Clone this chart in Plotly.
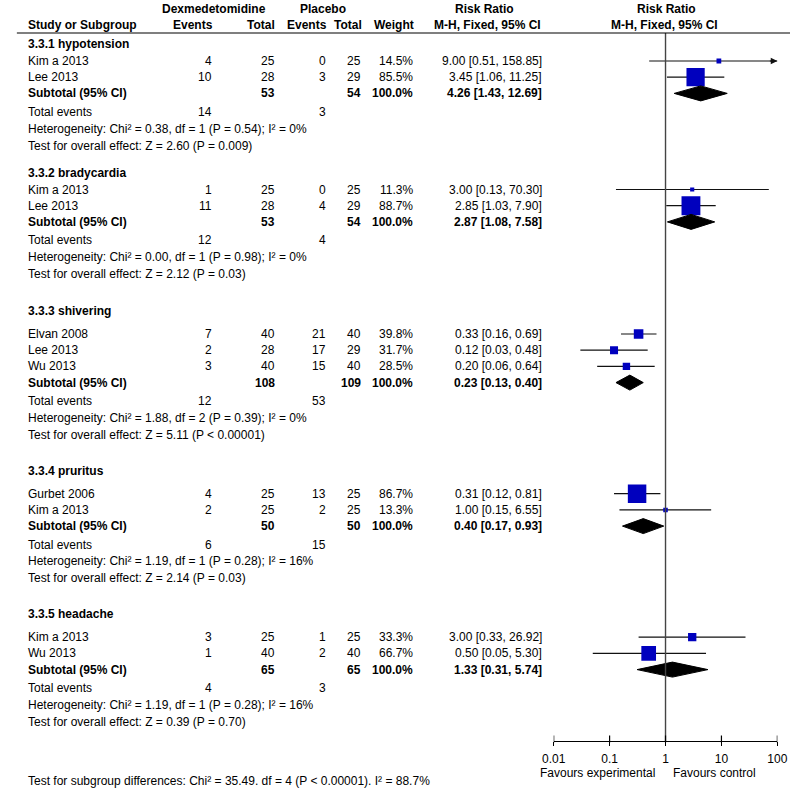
import math
import plotly.graph_objects as go

W, H = 800, 788

# ---------------- data ----------------
sections = ["3.3.1 hypotension", "3.3.2 bradycardia", "3.3.3 shivering",
            "3.3.4 pruritus", "3.3.5 headache"]
study_names = [["Kim a 2013", "Lee 2013"], ["Kim a 2013", "Lee 2013"],
               ["Elvan 2008", "Lee 2013", "Wu 2013"], ["Gurbet 2006", "Kim a 2013"],
               ["Kim a 2013", "Wu 2013"]]
dex_events = [[4, 10], [1, 11], [7, 2, 3], [4, 2], [3, 1]]
dex_total = [[25, 28], [25, 28], [40, 28, 40], [25, 25], [25, 40]]
pla_events = [[0, 3], [0, 4], [21, 17, 15], [13, 2], [1, 2]]
pla_total = [[25, 29], [25, 29], [40, 29, 40], [25, 25], [25, 40]]
weights = [[14.5, 85.5], [11.3, 88.7], [39.8, 31.7, 28.5], [86.7, 13.3], [33.3, 66.7]]
rr = [[9.00, 3.45], [3.00, 2.85], [0.33, 0.12, 0.20], [0.31, 1.00], [3.00, 0.50]]
rr_lo = [[0.51, 1.06], [0.13, 1.03], [0.16, 0.03, 0.06], [0.12, 0.15], [0.33, 0.05]]
rr_hi = [[158.85, 11.25], [70.30, 7.90], [0.69, 0.48, 0.64], [0.81, 6.55], [26.92, 5.30]]
sub_dex_total = [53, 53, 108, 50, 65]
sub_pla_total = [54, 54, 109, 50, 65]
sub_rr = [4.26, 2.87, 0.23, 0.40, 1.33]
sub_lo = [1.43, 1.08, 0.13, 0.17, 0.31]
sub_hi = [12.69, 7.58, 0.40, 0.93, 5.74]
tot_dex_events = [14, 12, 12, 6, 4]
tot_pla_events = [3, 4, 53, 15, 3]
heterogeneity = ["Chi² = 0.38, df = 1 (P = 0.54); I² = 0%",
                 "Chi² = 0.00, df = 1 (P = 0.98); I² = 0%",
                 "Chi² = 1.88, df = 2 (P = 0.39); I² = 0%",
                 "Chi² = 1.19, df = 1 (P = 0.28); I² = 16%",
                 "Chi² = 1.19, df = 1 (P = 0.28); I² = 16%"]
overall = ["Z = 2.60 (P = 0.009)", "Z = 2.12 (P = 0.03)", "Z = 5.11 (P < 0.00001)",
           "Z = 2.14 (P = 0.03)", "Z = 0.39 (P = 0.70)"]
subgroup_test = "Test for subgroup differences: Chi² = 35.49. df = 4 (P < 0.00001). I² = 88.7%"
tick_vals = [0.01, 0.1, 1, 10, 100]
tick_text = ["0.01", "0.1", "1", "10", "100"]
x_min, x_max = 0.01, 100

# ---------------- layout constants (pixels) ----------------
FONT = "Liberation Sans, Arial, sans-serif"
FS = 12
BLUE = "#0000BE"
col_name = 14
col_dex_ev = 208
col_dex_tot = 273
col_pla_ev = 325
col_pla_tot = 361
col_w = 414
col_ci = 547
axis_y = 741
header_line_y = 33

fig = go.Figure()
ann = []


def txt(x, y, s, anchor="left", bold=False, size=FS):
    if bold:
        s = "<b>" + s + "</b>"
    ann.append(dict(x=x, y=y, xref="x", yref="y", text=s, showarrow=False,
                    xanchor=anchor, yanchor="middle",
                    font=dict(family=FONT, size=size, color="black")))


# header
txt(208, 9, "Dexmedetomidine", "center", True)
txt(320, 9, "Placebo", "center", True)
txt(486, 9, "Risk Ratio", "center", True)
txt(673, 9, "Risk Ratio", "center", True)
hy = 25
txt(col_name, hy, "Study or Subgroup", "left", True)
txt(col_dex_ev + 1, hy, "Events", "right", True)
txt(col_dex_tot, hy, "Total", "right", True)
txt(col_pla_ev + 1, hy, "Events", "right", True)
txt(col_pla_tot + 1, hy, "Total", "right", True)
txt(col_w + 1, hy, "Weight", "right", True)
txt(489, hy, "M-H, Fixed, 95% CI", "center", True)
txt(671, hy, "M-H, Fixed, 95% CI", "center", True)

ROW = 16.2
y = 44
for si in range(len(sections)):
    first_gap = 17 if si < 2 else 23
    txt(col_name, y, sections[si], "left", True)
    ys = []
    yy = y + first_gap
    for k, name in enumerate(study_names[si]):
        ys.append(yy)
        txt(col_name, yy, name)
        txt(col_dex_ev, yy, str(dex_events[si][k]), "right")
        txt(col_dex_tot, yy, str(dex_total[si][k]), "right")
        txt(col_pla_ev, yy, str(pla_events[si][k]), "right")
        txt(col_pla_tot, yy, str(pla_total[si][k]), "right")
        txt(col_w, yy, f"{weights[si][k]:.1f}%", "right")
        txt(col_ci, yy, f"{rr[si][k]:.2f} [{rr_lo[si][k]:.2f}, {rr_hi[si][k]:.2f}]", "right")
        yy += ROW
    ysub = yy
    txt(col_name, ysub, "Subtotal (95% CI)", "left", True)
    txt(col_dex_tot, ysub, str(sub_dex_total[si]), "right", True)
    txt(col_pla_tot, ysub, str(sub_pla_total[si]), "right", True)
    txt(col_w, ysub, "100.0%", "right", True)
    txt(col_ci, ysub, f"{sub_rr[si]:.2f} [{sub_lo[si]:.2f}, {sub_hi[si]:.2f}]", "right", True)
    ytot = ysub + 18.5
    txt(col_name, ytot, "Total events")
    txt(col_dex_ev, ytot, str(tot_dex_events[si]), "right")
    txt(col_pla_ev, ytot, str(tot_pla_events[si]), "right")
    yhet = ytot + 16.8
    txt(col_name, yhet, "Heterogeneity: " + heterogeneity[si])
    yov = yhet + 16.8
    txt(col_name, yov, "Test for overall effect: " + overall[si])

    # forest marks
    for k in range(len(study_names[si])):
        lo = max(rr_lo[si][k], x_min)
        hi = min(rr_hi[si][k], x_max)
        fig.add_trace(go.Scatter(x=[lo, hi], y=[ys[k], ys[k]], mode="lines",
                                 line=dict(color="#111111", width=1.2),
                                 xaxis="x2", yaxis="y", hoverinfo="skip", showlegend=False))
        if rr_hi[si][k] > x_max:
            ann.append(dict(x=math.log10(x_max), y=ys[k], xref="x2", yref="y",
                            ax=-9, ay=0, text="", showarrow=True, arrowhead=2,
                            arrowsize=1.1, arrowwidth=1.2, arrowcolor="#111111"))
    fig.add_trace(go.Scatter(x=rr[si], y=ys, mode="markers",
                             marker=dict(symbol="square", color=BLUE, opacity=1,
                                         size=[2 + 0.19 * w for w in weights[si]],
                                         line=dict(width=0)),
                             xaxis="x2", yaxis="y", hoverinfo="skip", showlegend=False))
    dh = 7.5
    fig.add_trace(go.Scatter(x=[sub_lo[si], sub_rr[si], sub_hi[si], sub_rr[si], sub_lo[si]],
                             y=[ysub, ysub - dh, ysub, ysub + dh, ysub],
                             mode="lines", fill="toself", fillcolor="black",
                             line=dict(color="black", width=1),
                             xaxis="x2", yaxis="y", hoverinfo="skip", showlegend=False))
    y = yov + (27 if si == 0 else 37 if si == 1 else 36)

# vertical line of no effect
fig.add_trace(go.Scatter(x=[1, 1], y=[header_line_y, axis_y], mode="lines",
                         line=dict(color="#444444", width=1.4),
                         xaxis="x2", yaxis="y", hoverinfo="skip", showlegend=False))
# upper half of the tick marks (lower half drawn by the axis itself)
fig.add_trace(go.Scatter(x=tick_vals, y=[axis_y - 2] * len(tick_vals), mode="markers",
                         marker=dict(symbol="line-ns", size=5,
                                     line=dict(color="black", width=1.2)),
                         xaxis="x2", yaxis="y", hoverinfo="skip", showlegend=False))

txt(663, 773, "Favours experimental", "right")
txt(678, 773, "Favours control", "left")
txt(col_name, 781, subgroup_test, "left")

shapes = [dict(type="line", xref="x", yref="y", x0=5, x1=800,
               y0=header_line_y, y1=header_line_y, line=dict(color="black", width=1.2))]

fig.update_layout(
    width=W, height=H, margin=dict(l=0, r=0, t=0, b=0),
    paper_bgcolor="white", plot_bgcolor="rgba(0,0,0,0)",
    annotations=ann, shapes=shapes, showlegend=False,
    xaxis=dict(domain=[0, 1], range=[0, W], visible=False, fixedrange=True),
    yaxis=dict(domain=[0, 1], range=[H, 0], visible=False, fixedrange=True),
    xaxis2=dict(domain=[557 / W, 787 / W], type="log",
                range=[math.log10(x_min), math.log10(x_max)],
                anchor="free", position=1 - axis_y / H,
                showline=True, linecolor="black", linewidth=1.2,
                tickvals=tick_vals, ticktext=tick_text,
                ticks="outside", ticklen=4, tickwidth=1.2, tickcolor="black",
                ticklabelstandoff=2,
                tickfont=dict(family=FONT, size=FS, color="black"),
                showgrid=False, zeroline=False, fixedrange=True),
)

fig.write_html("out.html", config={"displayModeBar": False},
               post_script="document.body.style.margin='0';document.body.style.overflow='hidden';")
